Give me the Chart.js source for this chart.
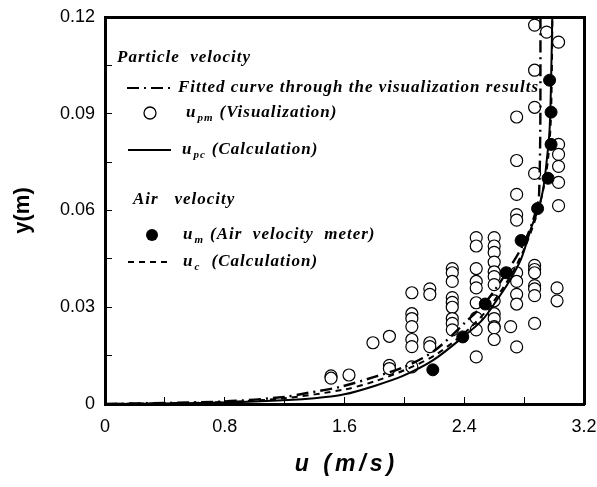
<!DOCTYPE html>
<html>
<head>
    <title>Particle and air velocity profile</title>
    <script src="https://cdn.jsdelivr.net/npm/chart.js"></script>
    <style>
        body { margin: 0; background: #fff; }
        canvas { display: block; }
    </style>
</head>
<body>
    <canvas id="profileChart" width="597" height="487"></canvas>

    <script>
        // u_pm (Visualization) - open circles
        const upmU = [1.51, 1.51, 1.63, 1.79, 1.90, 1.90, 1.90,
            2.05, 2.05, 2.05, 2.05, 2.05, 2.05, 2.05,
            2.17, 2.17, 2.17, 2.17,
            2.32, 2.32, 2.32, 2.32, 2.32, 2.32, 2.32, 2.32, 2.32,
            2.48, 2.48, 2.48, 2.48, 2.48, 2.48, 2.48, 2.48, 2.48,
            2.60, 2.60, 2.60, 2.60, 2.60, 2.60, 2.60, 2.60, 2.60, 2.60, 2.60, 2.60, 2.60,
            2.71, 2.75, 2.75, 2.75, 2.75, 2.75, 2.75, 2.75, 2.75, 2.75, 2.75,
            2.87, 2.87, 2.87, 2.87, 2.87, 2.87, 2.87, 2.87, 2.87, 2.87, 2.87,
            2.95, 3.03, 3.03, 3.03, 3.03, 3.03, 3.03, 3.02, 3.02];
        const upmY = [0.0087, 0.0080, 0.0090, 0.019, 0.021, 0.012, 0.011,
            0.0345, 0.028, 0.0265, 0.024, 0.020, 0.0178, 0.0115,
            0.0357, 0.034, 0.019, 0.0178,
            0.042, 0.0407, 0.038, 0.033, 0.0315, 0.030, 0.0265, 0.025, 0.023,
            0.0516, 0.049, 0.042, 0.038, 0.036, 0.0314, 0.0267, 0.023, 0.0146,
            0.0516, 0.049, 0.047, 0.044, 0.041, 0.0395, 0.037, 0.032, 0.028, 0.0265, 0.024, 0.0236, 0.020,
            0.024, 0.0407, 0.038, 0.034, 0.031, 0.0177, 0.0755, 0.065, 0.0587, 0.057, 0.089,
            0.043, 0.0417, 0.0407, 0.0367, 0.0357, 0.0336, 0.025, 0.0715, 0.1175, 0.1035, 0.092,
            0.1153, 0.1122, 0.0805, 0.0774, 0.0737, 0.0687, 0.0615, 0.036, 0.032];

        // u_m (Air velocity meter) - filled circles
        const umU = [2.19, 2.39, 2.54, 2.68, 2.78, 2.89, 2.96, 2.98, 2.98, 2.97];
        const umY = [0.0106, 0.0208, 0.031, 0.0407, 0.0507, 0.0606, 0.070, 0.0805, 0.0905, 0.1004];

        // u_pc (Calculation) - solid line
        const upcU = [0, 0.5, 1.0, 1.4, 1.6, 1.8, 1.99, 2.19, 2.39, 2.52, 2.61, 2.70, 2.78, 2.85, 2.90, 2.93, 2.95, 2.97, 2.98, 2.99];
        const upcY = [0, 0.0002, 0.0008, 0.0018, 0.003, 0.0056, 0.0087, 0.0135, 0.0207, 0.026, 0.0317, 0.038, 0.045, 0.055, 0.061, 0.0675, 0.075, 0.085, 0.100, 0.125];

        // u_c (Calculation) - dashed line
        const ucU = [0, 0.8, 1.2, 1.6, 1.8, 2.0, 2.2, 2.4, 2.55, 2.7, 2.8, 2.88, 2.93, 2.96, 2.98, 2.99];
        const ucY = [0, 0.0006, 0.0018, 0.0045, 0.007, 0.0105, 0.015, 0.022, 0.029, 0.039, 0.048, 0.058, 0.067, 0.076, 0.090, 0.125];

        // Fitted curve through the visualization results - dash-dot line
        const fitU = [0, 0.8, 1.2, 1.35, 1.57, 1.8, 2.0, 2.2, 2.4, 2.55, 2.7, 2.8, 2.86, 2.9, 2.91];
        const fitY = [0, 0.0008, 0.0022, 0.0034, 0.0053, 0.0084, 0.0115, 0.0165, 0.025, 0.032, 0.042, 0.05, 0.057, 0.065, 0.125];

        const xTicks = [0, 0.4, 0.8, 1.2, 1.6, 2.0, 2.4, 2.8, 3.2];
        const xLabels = ['0', '', '0.8', '', '1.6', '', '2.4', '', '3.2'];
        const yTicks = [0, 0.015, 0.03, 0.045, 0.06, 0.075, 0.09, 0.105, 0.12];
        const yLabels = ['0', '', '0.03', '', '0.06', '', '0.09', '', '0.12'];

        const pts = (xs, ys) => xs.map((v, i) => ({ x: v, y: ys[i] }));

        const serif = '"Liberation Serif", "Times New Roman", serif';
        const sans = '"Liberation Sans", Arial, sans-serif';

        function drawLabel(ctx, x, y, main, sub, rest) {
            ctx.letterSpacing = '1px';
            ctx.font = 'bold italic 17px ' + serif;
            ctx.fillText(main, x, y);
            let cx = x + ctx.measureText(main).width + 1;
            if (sub) {
                ctx.font = 'bold italic 11px ' + serif;
                ctx.fillText(sub, cx, y + 5);
                cx += ctx.measureText(sub).width + 6;
            }
            if (rest) {
                ctx.font = 'bold italic 17px ' + serif;
                ctx.fillText(rest, cx, y);
            }
            ctx.letterSpacing = '0px';
        }

        // legend block and x axis title
        const legendPlugin = {
            id: 'legendPlugin',
            afterDraw(chart) {
                const ctx = chart.ctx;
                const x = chart.scales.x;
                ctx.save();
                ctx.fillStyle = '#000';
                ctx.strokeStyle = '#000';

                ctx.textAlign = 'center';
                ctx.textBaseline = 'middle';
                ctx.letterSpacing = '4px';
                ctx.font = 'bold italic 23px ' + sans;
                ctx.fillText('u (m/s)', (x.left + x.right) / 2 + 2, 465);
                ctx.letterSpacing = '0px';
                ctx.textAlign = 'left';

                ctx.letterSpacing = '1px';
                ctx.font = 'bold italic 17px ' + serif;
                ctx.fillText('Particle  velocity', 117, 58);
                ctx.letterSpacing = '0px';

                ctx.lineWidth = 2.2;
                ctx.setLineDash([12, 5, 2, 5]);
                ctx.beginPath(); ctx.moveTo(127, 88); ctx.lineTo(172, 88); ctx.stroke();
                drawLabel(ctx, 178, 88, 'Fitted curve through the visualization results');

                ctx.setLineDash([]);
                ctx.lineWidth = 1.3;
                ctx.beginPath(); ctx.arc(150, 113, 6, 0, Math.PI * 2);
                ctx.fillStyle = '#fff'; ctx.fill(); ctx.stroke();
                ctx.fillStyle = '#000';
                drawLabel(ctx, 186, 113, 'u', 'pm', '(Visualization)');

                ctx.lineWidth = 2;
                ctx.beginPath(); ctx.moveTo(128, 150); ctx.lineTo(171, 150); ctx.stroke();
                drawLabel(ctx, 182, 150, 'u', 'pc', '(Calculation)');

                ctx.letterSpacing = '1px';
                ctx.font = 'bold italic 17px ' + serif;
                ctx.fillText('Air   velocity', 133, 200);
                ctx.letterSpacing = '0px';

                ctx.beginPath(); ctx.arc(152, 235, 6, 0, Math.PI * 2); ctx.fill();
                drawLabel(ctx, 183, 235, 'u', 'm', '(Air  velocity  meter)');

                ctx.lineWidth = 2;
                ctx.setLineDash([6, 5]);
                ctx.beginPath(); ctx.moveTo(128, 262); ctx.lineTo(170, 262); ctx.stroke();
                ctx.setLineDash([]);
                drawLabel(ctx, 183, 262, 'u', 'c', ' (Calculation)');
                ctx.restore();
            }
        };

        const tickFont = { family: sans, size: 18 };
        const frameBorder = { display: true, width: 3, color: '#000' };
        const innerTicks = { display: true, drawOnChartArea: false, drawTicks: true, tickLength: -7,
                             lineWidth: 1, tickWidth: 1, color: '#000', tickColor: '#000' };
        const noGrid = { display: false, drawTicks: false };

        new Chart(document.getElementById('profileChart').getContext('2d'), {
            type: 'scatter',
            data: {
                datasets: [
                    { label: 'u_m (Air velocity meter)', data: pts(umU, umY), order: 0,
                      pointRadius: 6, pointBackgroundColor: '#000', pointBorderColor: '#000', pointBorderWidth: 1 },
                    { label: 'u_pc (Calculation)', data: pts(upcU, upcY), order: 1, showLine: true,
                      borderColor: '#000', borderWidth: 2, pointRadius: 0, tension: 0.3 },
                    { label: 'u_c (Calculation)', data: pts(ucU, ucY), order: 1, showLine: true,
                      borderColor: '#000', borderWidth: 2, borderDash: [6, 5], pointRadius: 0, tension: 0.3 },
                    { label: 'Fitted curve through the visualization results', data: pts(fitU, fitY), order: 1, showLine: true,
                      borderColor: '#000', borderWidth: 2.4, borderDash: [12, 5, 2, 5], pointRadius: 0, tension: 0.3 },
                    { label: 'u_pm (Visualization)', data: pts(upmU, upmY), order: 3,
                      pointRadius: 6, pointBackgroundColor: '#fff', pointBorderColor: '#000', pointBorderWidth: 1.2 }
                ]
            },
            options: {
                responsive: false,
                animation: false,
                layout: { padding: { top: 17, right: 13, left: 0, bottom: 0 } },
                plugins: { legend: { display: false }, tooltip: { enabled: false } },
                scales: {
                    x: {
                        type: 'linear', min: 0, max: 3.2,
                        grid: innerTicks, border: frameBorder,
                        afterBuildTicks: s => { s.ticks = xTicks.map(v => ({ value: v })); },
                        afterFit: s => { s.height = 83; s.paddingLeft = 0; s.paddingRight = 0; },
                        ticks: { color: '#000', font: tickFont, padding: 19, maxRotation: 0,
                                 callback: (v, i) => xLabels[i] }
                    },
                    y: {
                        type: 'linear', min: 0, max: 0.12,
                        grid: innerTicks, border: frameBorder,
                        afterBuildTicks: s => { s.ticks = yTicks.map(v => ({ value: v })); },
                        afterFit: s => { s.width = 105; s.paddingTop = 0; s.paddingBottom = 0; },
                        ticks: { color: '#000', font: tickFont, padding: 17,
                                 callback: (v, i) => yLabels[i] },
                        title: { display: true, text: 'y(m)', color: '#000', padding: { top: 10, bottom: 0 },
                                 font: { family: sans, size: 22, weight: 'bold' } }
                    },
                    xTop: {
                        type: 'linear', position: 'top', min: 0, max: 3.2,
                        grid: noGrid, border: frameBorder, ticks: { display: false },
                        afterFit: s => { s.height = 0; s.paddingLeft = 0; s.paddingRight = 0; }
                    },
                    yRight: {
                        type: 'linear', position: 'right', min: 0, max: 0.12,
                        grid: noGrid, border: frameBorder, ticks: { display: false },
                        afterFit: s => { s.width = 0; s.paddingTop = 0; s.paddingBottom = 0; }
                    }
                }
            },
            plugins: [legendPlugin]
        });
    </script>
</body>
</html>
